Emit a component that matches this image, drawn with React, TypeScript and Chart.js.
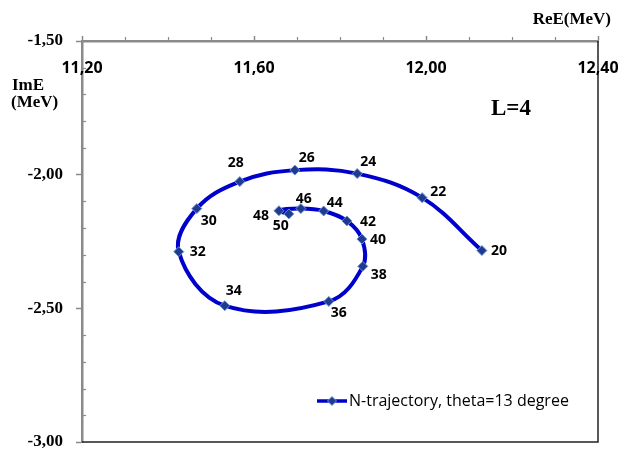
import React, { useEffect, useRef } from "react";
import { Chart, registerables } from "chart.js";

Chart.register(...registerables);

// ---- data ----
const stepLabels = [20, 22, 24, 26, 28, 30, 32, 34, 36, 38, 40, 42, 44, 46, 48, 50];
const reValues = [12.13, 11.991, 11.84, 11.695, 11.567, 11.467, 11.425, 11.532, 11.774, 11.853, 11.851, 11.816, 11.762, 11.709, 11.658, 11.681];
const imValues = [-2.284, -2.086, -1.996, -1.983, -2.026, -2.127, -2.288, -2.49, -2.474, -2.343, -2.241, -2.173, -2.136, -2.127, -2.135, -2.147];
const seriesName = "N-trajectory, theta=13 degree";
const xTicks = [11.2, 11.6, 12.0, 12.4];
const yTicks = [-1.5, -2.0, -2.5, -3.0];
const xTitle = "ReE(MeV)";
const yTitleLines = ["ImE", "(MeV)"];
const panelLabel = "L=4";

// label placement (styling), dx/dy in px from each point
const labelOffsets: [number, number][] = [
  [17, 0], [16, -6], [11, -12], [12, -12], [-4, -19], [12, 12], [19, 0], [9, -15],
  [10, 12], [16, 9], [16, 1], [21, 1], [11, -8], [3, -10], [-18, 5], [-8, 12],
];

const SERIF = "'Liberation Serif', 'Times New Roman', serif";
const SANS = "'Open Sans', 'Noto Sans', sans-serif";
const AXIS_GRAY = "#8a8a8a";
const LINE_BLUE = "#0000cc";
const MARK_FILL = "#1f3b8f";
const MARK_EDGE = "#6f93d3";

const fmt = (v: number) => Number(v).toFixed(2).replace(".", ",");

function diamond(ctx: CanvasRenderingContext2D, x: number, y: number, r: number) {
  ctx.beginPath();
  ctx.moveTo(x, y - r);
  ctx.lineTo(x + r, y);
  ctx.lineTo(x, y + r);
  ctx.lineTo(x - r, y);
  ctx.closePath();
  ctx.fillStyle = MARK_FILL;
  ctx.fill();
  ctx.strokeStyle = MARK_EDGE;
  ctx.lineWidth = 1;
  ctx.stroke();
}

const decorPlugin = {
  id: "decor",
  beforeDatasetsDraw(chart: any) {
    const ctx: CanvasRenderingContext2D = chart.ctx;
    const { left, right, top, bottom } = chart.chartArea;
    const xs = chart.scales.x;
    const ys = chart.scales.y;
    ctx.save();
    // right & bottom frame
    ctx.strokeStyle = "#222";
    ctx.lineWidth = 1.5;
    ctx.beginPath();
    ctx.moveTo(left, bottom);
    ctx.lineTo(right, bottom);
    ctx.lineTo(right, top);
    ctx.stroke();
    // minor ticks
    ctx.strokeStyle = AXIS_GRAY;
    ctx.lineWidth = 1.2;
    for (let i = 1; i < 12; i++) {
      if (i % 4 === 0) continue;
      const v = xs.min + i * 0.1;
      const px = Math.round(xs.getPixelForValue(v)) + 0.5;
      ctx.beginPath();
      ctx.moveTo(px, top);
      ctx.lineTo(px, top - 4);
      ctx.stroke();
    }
    for (let i = 1; i < 15; i++) {
      if (i % 5 === 0) continue;
      const v = ys.max - i * 0.1;
      const py = Math.round(ys.getPixelForValue(v)) + 0.5;
      ctx.beginPath();
      ctx.moveTo(left, py);
      ctx.lineTo(left + 4, py);
      ctx.stroke();
    }
    // x tick labels (below the top axis line, inside the plot)
    ctx.fillStyle = "#000";
    ctx.font = `bold 16px ${SANS}`;
    ctx.textAlign = "center";
    ctx.textBaseline = "middle";
    xs.ticks.forEach((t: any) => {
      ctx.fillText(fmt(t.value), xs.getPixelForValue(t.value), top + 27);
    });
    ctx.restore();
  },
  afterDatasetsDraw(chart: any) {
    const ctx: CanvasRenderingContext2D = chart.ctx;
    const meta = chart.getDatasetMeta(0);
    ctx.save();
    // point labels
    ctx.fillStyle = "#000";
    ctx.font = `bold 14px ${SANS}`;
    ctx.textAlign = "center";
    ctx.textBaseline = "middle";
    meta.data.forEach((pt: any, i: number) => {
      const [dx, dy] = labelOffsets[i] || [12, 0];
      ctx.fillText(String(stepLabels[i]), pt.x + dx, pt.y + dy);
    });
    // titles
    ctx.font = `bold 17px ${SERIF}`;
    ctx.textAlign = "right";
    ctx.fillText(xTitle, 611, 20);
    ctx.textAlign = "left";
    ctx.fillText(yTitleLines[0], 12, 86);
    ctx.fillText(yTitleLines[1], 11, 103);
    ctx.font = `bold 23px ${SERIF}`;
    ctx.fillText(panelLabel, 491, 109);
    // legend
    const ly = 401;
    ctx.strokeStyle = LINE_BLUE;
    ctx.lineWidth = 3.5;
    ctx.beginPath();
    ctx.moveTo(317, ly);
    ctx.lineTo(347, ly);
    ctx.stroke();
    diamond(ctx, 332, ly, 4.5);
    ctx.fillStyle = "#000";
    ctx.font = `16px ${SANS}`;
    ctx.textAlign = "left";
    ctx.fillText(chart.data.datasets[0].label, 349, ly);
    ctx.restore();
  },
};

export default function App() {
  const ref = useRef<HTMLCanvasElement | null>(null);
  useEffect(() => {
    if (!ref.current) return;
    const chart = new Chart(ref.current, {
      type: "scatter",
      data: {
        datasets: [
          {
            label: seriesName,
            data: reValues.map((x, i) => ({ x, y: imValues[i] })),
            showLine: true,
            tension: 0.38,
            borderColor: LINE_BLUE,
            borderWidth: 4,
            pointStyle: "rectRot",
            pointRadius: 5,
            pointBackgroundColor: MARK_FILL,
            pointBorderColor: MARK_EDGE,
            pointBorderWidth: 1,
          },
        ],
      },
      options: {
        animation: false,
        responsive: true,
        maintainAspectRatio: false,
        layout: { padding: { top: 0, left: 0, right: 29, bottom: 13 } },
        plugins: { legend: { display: false }, tooltip: { enabled: false } },
        scales: {
          x: {
            type: "linear",
            position: "top",
            min: 11.2,
            max: 12.4,
            afterBuildTicks: (s: any) => {
              s.ticks = xTicks.map((value) => ({ value }));
            },
            afterFit: (s: any) => {
              s.height = 41;
              s.paddingLeft = 0;
              s.paddingRight = 0;
            },
            grid: {
              display: true,
              drawOnChartArea: false,
              drawTicks: true,
              tickLength: 5,
              tickColor: AXIS_GRAY,
              tickWidth: 1.5,
            },
            border: { display: true, color: AXIS_GRAY, width: 2.5 },
            ticks: { display: false },
          },
          y: {
            type: "linear",
            position: "left",
            min: -3,
            max: -1.5,
            afterBuildTicks: (s: any) => {
              s.ticks = yTicks.map((value) => ({ value }));
            },
            afterFit: (s: any) => {
              s.width = 82;
              s.paddingTop = 0;
              s.paddingBottom = 0;
            },
            grid: {
              display: true,
              drawOnChartArea: false,
              drawTicks: true,
              tickLength: 6,
              tickColor: AXIS_GRAY,
              tickWidth: 1.5,
            },
            border: { display: true, color: AXIS_GRAY, width: 2.5 },
            ticks: {
              padding: 13,
              color: "#000",
              font: { family: SERIF, size: 17, weight: "bold" },
              callback: (v: any) => fmt(v),
            },
          },
        },
      },
      plugins: [decorPlugin],
    } as any);
    return () => chart.destroy();
  }, []);
  return (
    <div style={{ position: "fixed", left: 0, top: 0, width: 627, height: 455, background: "#fff" }}>
      <canvas ref={ref} />
    </div>
  );
}
